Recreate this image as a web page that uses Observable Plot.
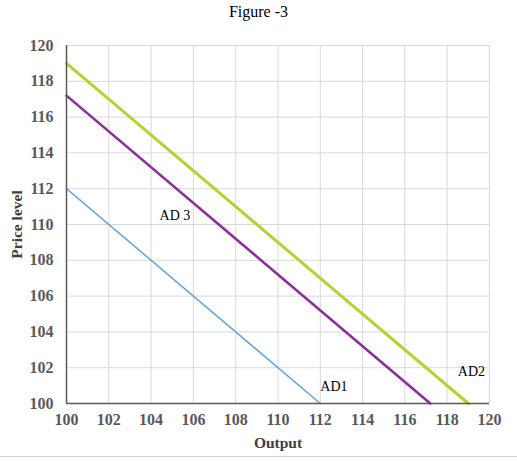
<!DOCTYPE html>
<html><head><meta charset="utf-8">
<script src="https://cdn.jsdelivr.net/npm/d3@7"></script>
<script src="https://cdn.jsdelivr.net/npm/@observablehq/plot@0.6"></script>
<style>
body{margin:0;background:#fff;}
#title{height:28px;line-height:24px;text-align:center;font-family:"Liberation Serif",serif;font-size:16px;color:#000;}
#wrap{width:517px;border-bottom:1px solid #d0d0d0;}
</style></head>
<body>
<div id="wrap"><div id="title">Figure -3</div><div id="chart"></div></div>
<script>
const series = ["AD1", "AD2", "AD 3"];
const xStart = [100, 100, 100];
const yStart = [112, 119, 117.2];
const xEnd = [112, 119, 117.2];
const yEnd = [100, 100, 100];
const colors = ["#6fa6d4", "#b3d334", "#8c2f9b"];
const widths = [1.6, 3, 2.6];
const labelX = [112, 118.5, 104.4];
const labelY = [100.95, 101.8, 110.5];
const ticks = [100,102,104,106,108,110,112,114,116,118,120];

const lines = [];
series.forEach((s,i)=>{
  lines.push({s, x:xStart[i], y:yStart[i]});
  lines.push({s, x:xEnd[i], y:yEnd[i]});
});
const labels = series.map((s,i)=>({s, x:labelX[i], y:labelY[i]}));
const font = "Liberation Serif, serif";
const marks = [
  Plot.gridX(ticks, {stroke:"#d9d9d9", strokeOpacity:1}),
  Plot.gridY(ticks, {stroke:"#d9d9d9", strokeOpacity:1}),
  Plot.axisX(ticks, {tickSize:0, tickPadding:10, fontSize:16, fontWeight:"bold", fill:"#595959", label:"Output", labelAnchor:"center", labelArrow:"none", labelOffset:44}),
  Plot.axisY(ticks, {tickSize:0, tickPadding:13, fontSize:16, fontWeight:"bold", fill:"#595959", label:"Price level", labelAnchor:"center", labelArrow:"none", labelOffset:56}),
];
series.forEach((s,i)=>{
  marks.push(Plot.line(lines.filter(d=>d.s===s), {x:"x", y:"y", stroke:colors[i], strokeWidth:widths[i]}));
});
marks.push(Plot.ruleX([100], {stroke:"#595959", strokeWidth:1.5}));
marks.push(Plot.ruleY([100], {stroke:"#595959", strokeWidth:1.5}));
marks.push(Plot.text(labels, {x:"x", y:"y", text:"s", textAnchor:"start", fontSize:14, fill:"#000", fontFamily:font}));

const chart = Plot.plot({
  width:517, height:428,
  marginTop:17, marginBottom:53, marginLeft:66, marginRight:28,
  style:{fontFamily:font, fontSize:"15px", background:"#fff"},
  x:{domain:[100,120]},
  y:{domain:[100,120]},
  marks
});
chart.querySelectorAll('[aria-label="x-axis label"] text, [aria-label="y-axis label"] text, [aria-label="x-axis label"], [aria-label="y-axis label"]').forEach(t=>{t.style.fontSize="15.5px";t.style.fontWeight="bold";t.style.fill="#404040";});
document.getElementById("chart").appendChild(chart);
</script>
</body></html>
